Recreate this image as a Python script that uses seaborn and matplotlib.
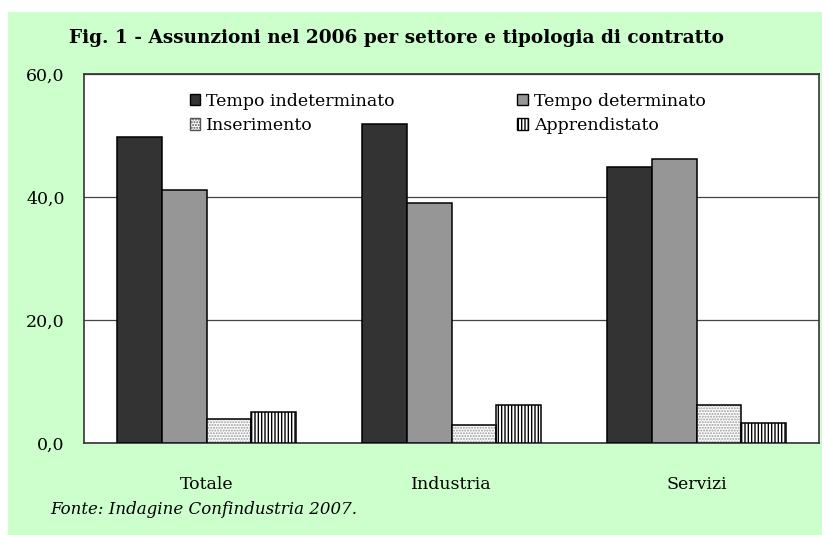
import matplotlib
matplotlib.use('Agg')
import matplotlib.pyplot as plt
from matplotlib.patches import Rectangle, Patch
import pandas as pd
import seaborn as sns

sns.set_style('white')
plt.rcParams['font.family'] = ['DejaVu Serif']
plt.rcParams['text.color'] = 'black'
plt.rcParams['xtick.color'] = 'black'
plt.rcParams['ytick.color'] = 'black'
plt.rcParams['hatch.linewidth'] = 1.0

# data
settori = ['Totale', 'Industria', 'Servizi']
tipi = ['Tempo indeterminato', 'Tempo determinato', 'Inserimento', 'Apprendistato']
indeterminato = [49.7, 51.9, 44.8]
determinato = [41.2, 39.0, 46.2]
inserimento = [3.9, 2.9, 6.1]
apprendistato = [5.1, 6.1, 3.3]
y_ticks = [0, 20, 40, 60]
y_labels = ['0,0', '20,0', '40,0', '60,0']

colori = ['#333333', '#969696', 'white', 'white']
tratteggi = [None, None, '......', '|||||']

righe = []
for tipo, valori in zip(tipi, [indeterminato, determinato, inserimento, apprendistato]):
    for settore, v in zip(settori, valori):
        righe.append({'settore': settore, 'tipo': tipo, 'valore': v})
tabella = pd.DataFrame(righe)

fig = plt.figure(figsize=(8.22, 5.35), dpi=100)
fig.patches.append(Rectangle((8 / 822, 0), 1, 1 - 12 / 535, transform=fig.transFigure,
                             facecolor='#ccffcc', edgecolor='none', zorder=-10))
ax = fig.add_axes([84 / 822, 1 - 443 / 535, 735 / 822, 369 / 535])

sns.barplot(data=tabella, x='settore', y='valore', hue='tipo', hue_order=tipi,
            palette=colori, width=4 / 5.5, gap=0, edgecolor='black', linewidth=1.1,
            errorbar=None, legend=False, ax=ax, zorder=3)

# hatched bars: hatch colour follows the edge colour, so redraw the outline on top
for cont, tr in zip(ax.containers, tratteggi):
    for p in cont:
        if tr is None:
            continue
        p.set_hatch(tr)
        p.set_edgecolor('#9a9a9a' if tr.startswith('.') else 'black')
        p.set_linewidth(0)
        ax.add_patch(Rectangle(p.get_xy(), p.get_width(), p.get_height(), fill=False,
                               edgecolor='black', linewidth=1.1, zorder=4))

ax.set_ylim(0, 60)
ax.set_xlim(-0.5, 2.5)
ax.set_yticks(y_ticks)
ax.set_yticklabels(y_labels, fontsize=12.5)
ax.set_xticks(range(len(settori)))
ax.set_xticklabels(settori, fontsize=12.5)
ax.set_xticks([-0.5, 0.5, 1.5, 2.5], minor=True)
ax.tick_params(axis='x', which='major', length=0, pad=24)
ax.tick_params(axis='x', which='minor', length=5, width=1, direction='out', color='#333333')
ax.tick_params(axis='y', length=5, width=1, direction='out', color='#333333', pad=9)
ax.set_xlabel('')
ax.set_ylabel('')
ax.yaxis.grid(True, color='#444444', linewidth=0.9)
ax.set_axisbelow(True)
for s in ax.spines.values():
    s.set_color('#333333')
    s.set_linewidth(1.2)

maniglie = [Patch(facecolor=colori[0], edgecolor='black', label=tipi[0]),
            Patch(facecolor='white', edgecolor='#555555', hatch='......', label=tipi[2]),
            Patch(facecolor=colori[1], edgecolor='black', label=tipi[1]),
            Patch(facecolor='white', edgecolor='black', hatch='|||||', label=tipi[3])]
ax.legend(handles=maniglie, ncol=2, loc='upper left', bbox_to_anchor=(0.144, 0.949),
          frameon=False, fontsize=12.5, handlelength=0.6, handleheight=0.6,
          handletextpad=0.35, columnspacing=7.05, labelspacing=0.42, borderpad=0,
          borderaxespad=0)

fig.text(396 / 822, 1 - 38 / 535, 'Fig. 1 - Assunzioni nel 2006 per settore e tipologia di contratto',
         ha='center', va='center', fontsize=13.3, fontweight='bold')
fig.text(50 / 822, 1 - 510 / 535, 'Fonte: Indagine Confindustria 2007.',
         ha='left', va='center', fontsize=12, style='italic')

fig.savefig('out.png', dpi=100)
